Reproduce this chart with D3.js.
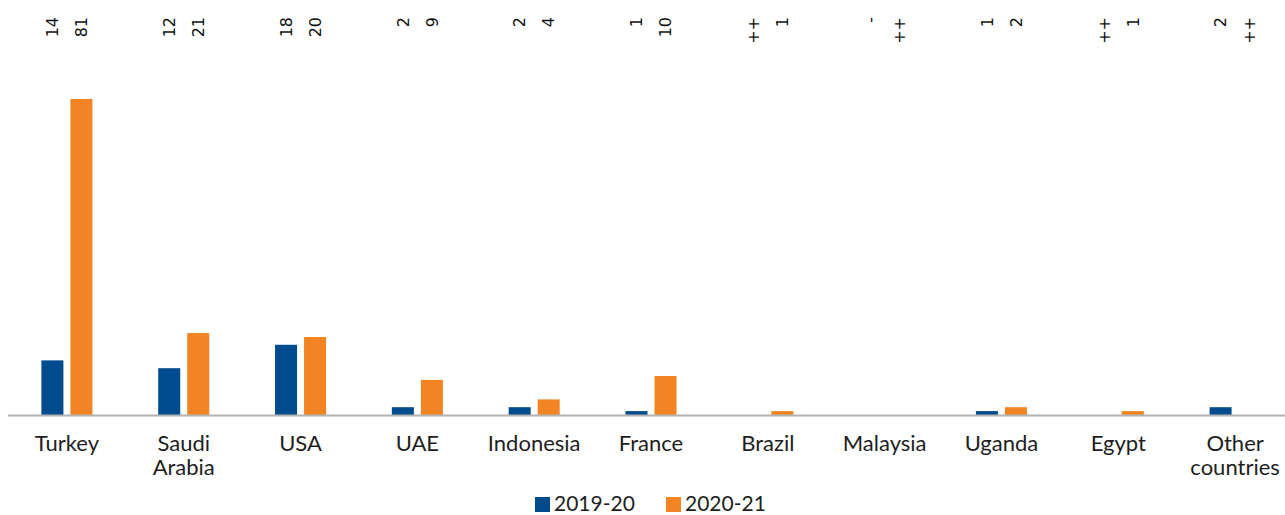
<!DOCTYPE html>
<html>
<head>
    <meta charset="utf-8">
    <title>Countries chart</title>
    <script src="https://cdnjs.cloudflare.com/ajax/libs/d3/7.8.5/d3.min.js"></script>
    <style>
        body { margin: 0; background: #fff; }
        .cat { font-family: Lato, "Open Sans", sans-serif; font-size: 22px; fill: #1e1e1e; }
        .val { font-family: "DejaVu Sans", sans-serif; font-size: 16px; fill: #111; }
        .leg { font-family: Lato, "Open Sans", sans-serif; font-size: 21px; fill: #1e1e1e; }
    </style>
</head>
<body>
<div id="chart"></div>
<script>
    var width = 1285,
        height = 515;

    // data
    var categories = ["Turkey", "Saudi Arabia", "USA", "UAE", "Indonesia", "France",
                      "Brazil", "Malaysia", "Uganda", "Egypt", "Other countries"];
    var series = ["2019-20", "2020-21"];
    var values2019 = [14, 12, 18, 2, 2, 1, 0, 0, 1, 0, 2];
    var values2020 = [81, 21, 20, 9, 4, 10, 1, 0, 2, 1, 0];
    var labels2019 = ["14", "12", "18", "2", "2", "1", "++", "-", "1", "++", "2"];
    var labels2020 = ["81", "21", "20", "9", "4", "10", "1", "++", "2", "1", "++"];
    var colors = ["#004b8d", "#f28423"];

    var baseY = 415;

    var x0 = d3.scaleBand()
        .domain(categories)
        .range([8.5, 1293.5])
        .paddingInner(0.563)
        .paddingOuter(0.2815);

    var x1 = d3.scaleBand()
        .domain(series)
        .range([0, x0.bandwidth()])
        .paddingInner(0.2414);

    var y = d3.scaleLinear()
        .domain([0, 81])
        .range([baseY, 99]);

    var svg = d3.select("#chart").append("svg")
        .attr("width", width)
        .attr("height", height);

    var rows = categories.map(function(c, i) {
        return {
            cat: c,
            vals: [
                { s: series[0], v: values2019[i], lab: labels2019[i] },
                { s: series[1], v: values2020[i], lab: labels2020[i] }
            ]
        };
    });

    var g = svg.selectAll("g.grp")
        .data(rows)
        .enter().append("g")
        .attr("class", "grp")
        .attr("transform", function(d) { return "translate(" + x0(d.cat) + ",0)"; });

    g.selectAll("rect")
        .data(function(d) { return d.vals; })
        .enter().append("rect")
        .attr("x", function(d) { return x1(d.s); })
        .attr("width", x1.bandwidth())
        .attr("y", function(d) { return y(d.v); })
        .attr("height", function(d) { return baseY - y(d.v); })
        .attr("fill", function(d, i) { return colors[i]; });

    // rotated value labels along the top
    g.selectAll("text.val")
        .data(function(d) { return d.vals; })
        .enter().append("text")
        .attr("class", "val")
        .attr("transform", function(d) {
            return "translate(" + (x1(d.s) + x1.bandwidth() / 2) + ",17) rotate(-90)";
        })
        .attr("dy", "0.36em")
        .attr("text-anchor", "end")
        .text(function(d) { return d.lab; });

    // baseline
    svg.append("line")
        .attr("x1", 8)
        .attr("x2", width)
        .attr("y1", baseY + 0.5)
        .attr("y2", baseY + 0.5)
        .attr("stroke", "#b3b3b3")
        .attr("stroke-width", 2);

    // category labels, wrapped on spaces
    var cat = svg.selectAll("text.cat")
        .data(categories)
        .enter().append("text")
        .attr("class", "cat")
        .attr("text-anchor", "middle")
        .attr("x", function(d) { return x0(d) + x0.bandwidth() / 2; })
        .attr("y", 451);

    cat.each(function(d) {
        var t = d3.select(this);
        d.split(" ").forEach(function(w, i) {
            t.append("tspan")
                .attr("x", t.attr("x"))
                .attr("dy", i ? 24 : 0)
                .text(w);
        });
    });

    // legend
    var legX = [535, 666];
    var leg = svg.selectAll("g.leg")
        .data(series)
        .enter().append("g")
        .attr("transform", function(d, i) { return "translate(" + legX[i] + ",497)"; });

    leg.append("rect")
        .attr("width", 15)
        .attr("height", 15)
        .attr("fill", function(d, i) { return colors[i]; });

    leg.append("text")
        .attr("class", "leg")
        .attr("x", 19)
        .attr("y", 14)
        .text(function(d) { return d; });
</script>
</body>
</html>
